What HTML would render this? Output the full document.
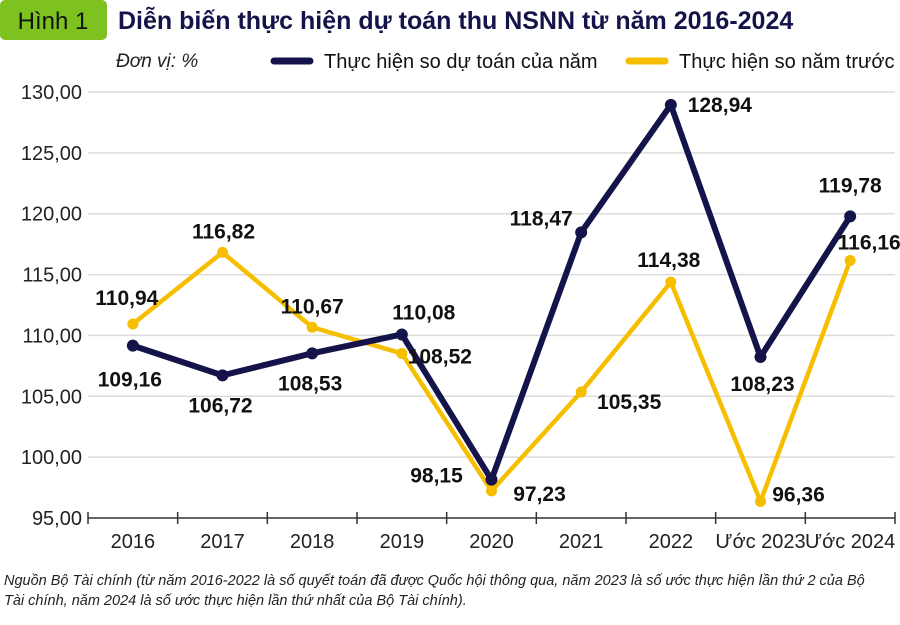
<!DOCTYPE html>
<html><head><meta charset="utf-8">
<style>
body{margin:0;background:#fff;width:900px;height:620px;overflow:hidden;font-family:"Liberation Sans Narrow","Liberation Sans",sans-serif;}
svg text{font-family:"Liberation Sans Narrow","Liberation Sans",sans-serif;}
</style></head><body>
<svg id="chart" width="900" height="620" xmlns="http://www.w3.org/2000/svg">
<rect x="0" y="0" width="107" height="40" rx="5" fill="#7dc21e"/>
<text x="53" y="29" font-size="24" text-anchor="middle" fill="#111">Hình 1</text>
<text x="118" y="29" font-size="25" font-weight="bold" fill="#14144a">Diễn biến thực hiện dự toán thu NSNN từ năm 2016-2024</text>
<text x="116" y="67" font-size="19" font-style="italic" fill="#222">Đơn vị: %</text>
<line x1="274" y1="61" x2="310" y2="61" stroke="#14144a" stroke-width="7" stroke-linecap="round"/>
<text x="324" y="68" font-size="20" fill="#111">Thực hiện so dự toán của năm</text>
<line x1="629" y1="61" x2="665" y2="61" stroke="#f5bf00" stroke-width="7" stroke-linecap="round"/>
<text x="679" y="68" font-size="20" fill="#111">Thực hiện so năm trước</text>
<g id="grid"></g><g id="axes"></g><g id="series"></g><g id="labels"></g>
<text x="4" y="585" font-size="14.5" font-style="italic" fill="#222">Nguồn Bộ Tài chính (từ năm 2016-2022 là số quyết toán đã được Quốc hội thông qua, năm 2023 là số ước thực hiện lần thứ 2 của Bộ</text>
<text x="4" y="605" font-size="14.5" font-style="italic" fill="#222">Tài chính, năm 2024 là số ước thực hiện lần thứ nhất của Bộ Tài chính).</text>
</svg>
<script>
const categories = ["2016","2017","2018","2019","2020","2021","2022","Ước 2023","Ước 2024"];
const planValues = [109.16,106.72,108.53,110.08,98.15,118.47,128.94,108.23,119.78];
const prevValues = [110.94,116.82,110.67,108.52,97.23,105.35,114.38,96.36,116.16];
const yTicks = [95,100,105,110,115,120,125,130];
const planLabels = ["109,16","106,72","108,53","110,08","98,15","118,47","128,94","108,23","119,78"];
const prevLabels = ["110,94","116,82","110,67","108,52","97,23","105,35","114,38","96,36","116,16"];

const NS="http://www.w3.org/2000/svg";
const X0=88, X1=895, Y0=518, Y1=92, VMIN=95, VMAX=130;
const band=(X1-X0)/categories.length;
const xs=i=>X0+band*(i+0.5);
const ys=v=>Y0-(v-VMIN)/(VMAX-VMIN)*(Y0-Y1);
function mk(tag,attrs,parent,txt){const e=document.createElementNS(NS,tag);for(const k in attrs)e.setAttribute(k,attrs[k]);if(txt!==undefined)e.textContent=txt;parent.appendChild(e);return e;}
const grid=document.getElementById('grid'),axes=document.getElementById('axes'),series=document.getElementById('series'),labels=document.getElementById('labels');
yTicks.forEach(t=>{
  if(t!==VMIN){const g=mk('line',{x1:X0,x2:X1,y1:ys(t),y2:ys(t),stroke:'#dcdcdc','stroke-width':1.5},grid);
  
  }
  const l=mk('text',{x:82,y:ys(t)+7,'text-anchor':'end','font-size':20,fill:'#222'},axes,t.toFixed(2).replace('.',','));
  
  
});
const ax=mk('line',{x1:X0,x2:X1,y1:Y0,y2:Y0,stroke:'#333','stroke-width':1.5},axes);


for(let i=0;i<=categories.length;i++){
  const tk=mk('line',{x1:X0+band*i,x2:X0+band*i,y1:Y0-6,y2:Y0+6,stroke:'#333','stroke-width':1.5},axes);
  
  
}
categories.forEach((c,i)=>{
  const t=mk('text',{x:xs(i),y:Y0+30,'text-anchor':'middle','font-size':20,fill:'#222'},axes,c);
  
  
});
function drawSeries(vals,color,name){
  const pts=vals.map((v,i)=>xs(i)+','+ys(v)).join(' ');
  const pl=mk('polyline',{points:pts,fill:'none',stroke:color,'stroke-width':name==='plan'?6:4.5,'stroke-linejoin':'round'},series);
  
  
  vals.forEach((v,i)=>{
    const c=mk('circle',{cx:xs(i),cy:ys(v),r:name==='plan'?6:5.5,fill:color},series);
    
    
  });
}
drawSeries(prevValues,'#f5bf00','prev');
drawSeries(planValues,'#14144a','plan');
// label offsets [dx,dy] relative to point
const planOff=[[-3,41],[-2,37],[-2,37],[22,-15],[-55,3],[-40,-7],[49,7],[2,34],[0,-24]];
const prevOff=[[-6,-19],[1,-14],[0,-14],[38,10],[48,10],[48,17],[-2,-15],[38,0],[19,-11]];
function drawLabels(vals,txts,off,name){
  vals.forEach((v,i)=>{
    const t=mk('text',{x:xs(i)+off[i][0],y:ys(v)+off[i][1],'text-anchor':'middle','font-size':21,'font-weight':'bold',fill:'#111'},labels,txts[i]);
    
    
  });
}
drawLabels(planValues,planLabels,planOff,'plan');
drawLabels(prevValues,prevLabels,prevOff,'prev');
</script>
</body></html>
